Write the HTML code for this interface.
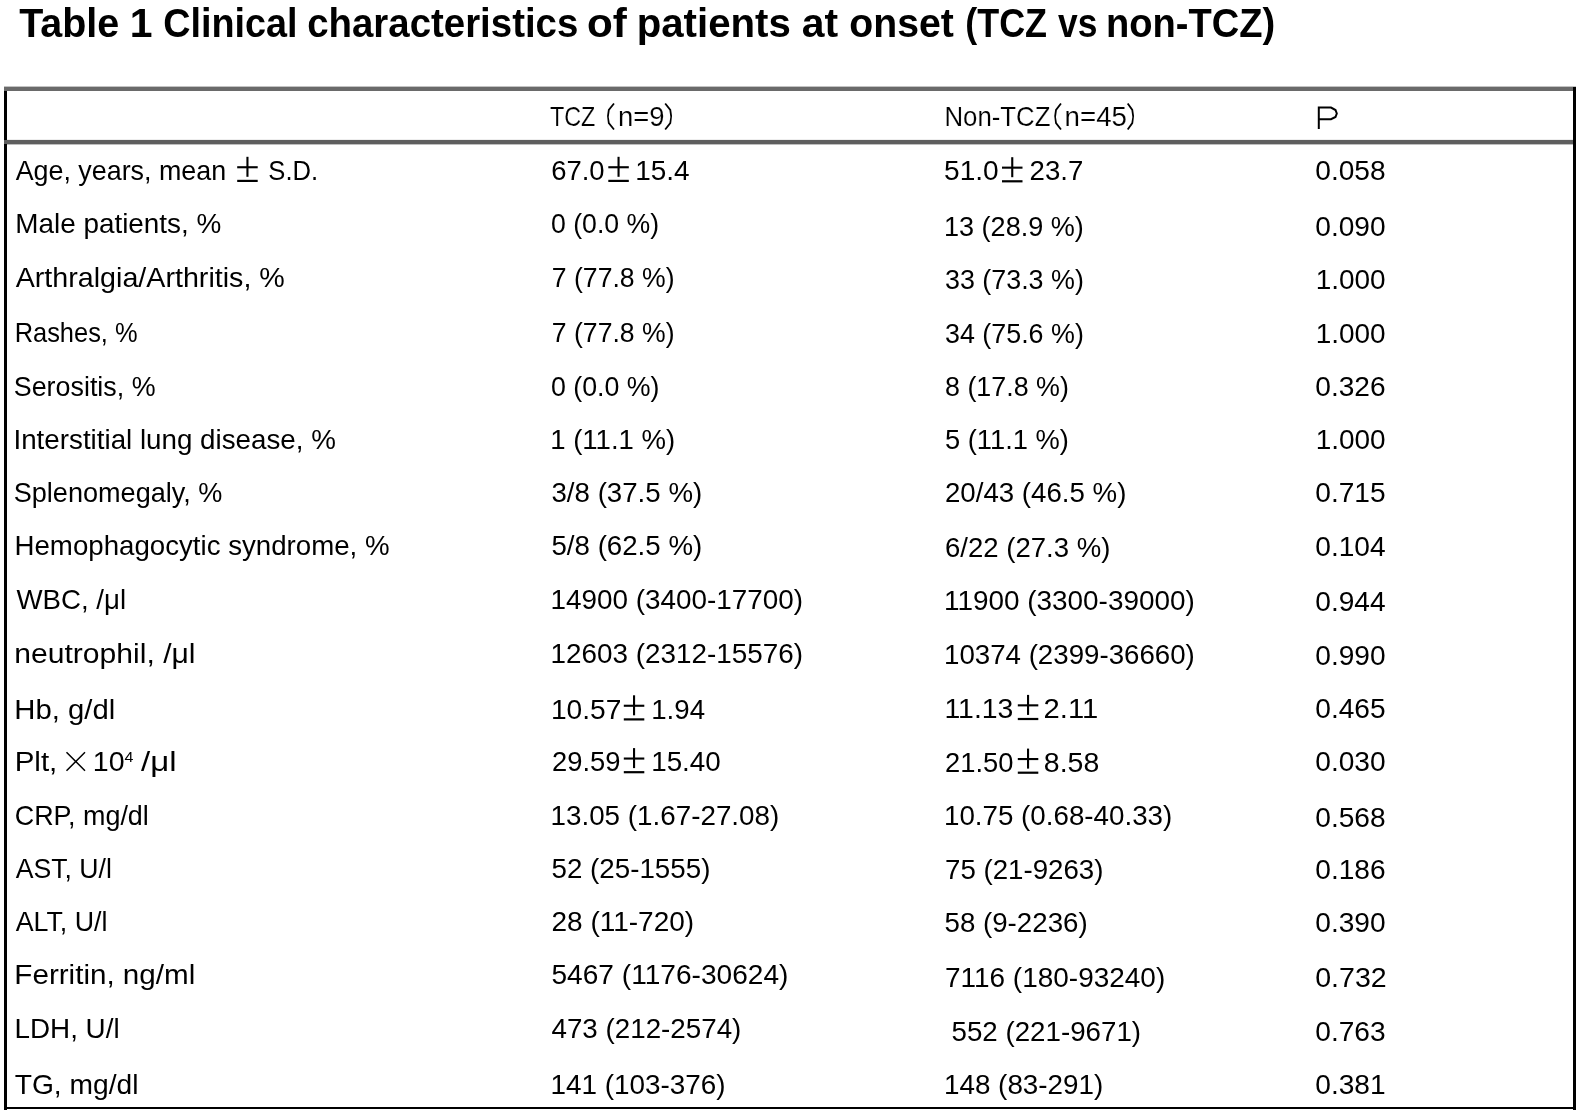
<!DOCTYPE html>
<html><head><meta charset="utf-8"><style>
html,body{margin:0;padding:0;background:#fff;}
body{width:1580px;height:1114px;overflow:hidden;position:relative;}
svg{position:absolute;left:0;top:0;will-change:transform;}
text{font-family:"Liberation Sans",sans-serif;fill:#000;}
</style></head><body>
<svg width="1580" height="1114" viewBox="0 0 1580 1114">
<rect x="4" y="86.6" width="1572" height="4.4" fill="#6a6a6a"/>
<rect x="4" y="139.9" width="1569" height="4.5" fill="#5e5e5e"/>
<rect x="4" y="91" width="3" height="49" fill="#000"/>
<rect x="4" y="144" width="3" height="966" fill="#000"/>
<rect x="1573" y="87" width="3" height="1023" fill="#000"/>
<rect x="4" y="1107" width="1572" height="2" fill="#000"/>
<path d="M1318.8 129 V107.6 H1331 L1335.5 110 L1336.8 113.5 L1335.5 117 L1331 119.2 H1318.8" fill="none" stroke="#000" stroke-width="2"/>
<g fill="#000">
<rect x="237.2" y="166.2" width="20.5" height="2.1"/><rect x="246.4" y="156.8" width="2.1" height="20"/><rect x="237.2" y="179.8" width="20.5" height="2.2"/>
<path d="M66.5 752.3 L85 770.6999999999999 M85 752.3 L66.5 770.6999999999999" stroke="#000" stroke-width="1.5" fill="none"/>
<rect x="608.3" y="166.2" width="20.5" height="2.1"/><rect x="617.5" y="156.8" width="2.1" height="20"/><rect x="608.3" y="179.8" width="20.5" height="2.2"/>
<rect x="623.8" y="704.7" width="20.5" height="2.1"/><rect x="633.0" y="695.3" width="2.1" height="20"/><rect x="623.8" y="718.3" width="20.5" height="2.2"/>
<rect x="623.8" y="757.5" width="20.5" height="2.1"/><rect x="633.0" y="748.1" width="2.1" height="20"/><rect x="623.8" y="771.1" width="20.5" height="2.2"/>
<rect x="1002.0" y="166.6" width="20.5" height="2.1"/><rect x="1011.2" y="157.2" width="2.1" height="20"/><rect x="1002.0" y="180.2" width="20.5" height="2.2"/>
<rect x="1017.8" y="704.3" width="20.5" height="2.1"/><rect x="1027.0" y="694.9" width="2.1" height="20"/><rect x="1017.8" y="717.9" width="20.5" height="2.2"/>
<rect x="1017.8" y="758.0" width="20.5" height="2.1"/><rect x="1027.0" y="748.6" width="2.1" height="20"/><rect x="1017.8" y="771.6" width="20.5" height="2.2"/>
<path d="M614.0 103.5 L608.8 110 Q607.0 116.5 608.8 123 L614.0 129.5" stroke="#000" stroke-width="1.8" fill="none"/>
<path d="M665.2 103.5 L670.3 110 Q672.1 116.5 670.3 123 L665.2 129.5" stroke="#000" stroke-width="1.8" fill="none"/>
<path d="M1061.0 103.5 L1056.0 110 Q1054.2 116.5 1056.0 123 L1061.0 129.5" stroke="#000" stroke-width="1.8" fill="none"/>
<path d="M1127.7 103.5 L1132.3 110 Q1134.1 116.5 1132.3 123 L1127.7 129.5" stroke="#000" stroke-width="1.8" fill="none"/>
</g>
<text x="19.20" y="37.0" font-size="40.5" font-weight="bold" textLength="100.03" lengthAdjust="spacingAndGlyphs">Table</text>
<text x="129.67" y="37.0" font-size="40.5" font-weight="bold" textLength="22.78" lengthAdjust="spacingAndGlyphs">1</text>
<text x="163.13" y="37.0" font-size="40.5" font-weight="bold" textLength="134.41" lengthAdjust="spacingAndGlyphs">Clinical</text>
<text x="307.20" y="37.0" font-size="40.5" font-weight="bold" textLength="271.13" lengthAdjust="spacingAndGlyphs">characteristics</text>
<text x="587.02" y="37.0" font-size="40.5" font-weight="bold" textLength="39.83" lengthAdjust="spacingAndGlyphs">of</text>
<text x="636.72" y="37.0" font-size="40.5" font-weight="bold" textLength="154.05" lengthAdjust="spacingAndGlyphs">patients</text>
<text x="801.69" y="37.0" font-size="40.5" font-weight="bold" textLength="36.32" lengthAdjust="spacingAndGlyphs">at</text>
<text x="849.36" y="37.0" font-size="40.5" font-weight="bold" textLength="104.55" lengthAdjust="spacingAndGlyphs">onset</text>
<text x="965.22" y="37.0" font-size="40.5" font-weight="bold" textLength="81.86" lengthAdjust="spacingAndGlyphs">(TCZ</text>
<text x="1058.00" y="37.0" font-size="40.5" font-weight="bold" textLength="39.40" lengthAdjust="spacingAndGlyphs">vs</text>
<text x="1106.08" y="37.0" font-size="40.5" font-weight="bold" textLength="169.13" lengthAdjust="spacingAndGlyphs">non-TCZ)</text>
<text x="15.70" y="180.0" font-size="27.5" textLength="210.39" lengthAdjust="spacingAndGlyphs">Age, years, mean</text>
<text x="268.34" y="180.0" font-size="27.5" textLength="49.77" lengthAdjust="spacingAndGlyphs">S.D.</text>
<text x="15.27" y="233.3" font-size="27.5" textLength="206.04" lengthAdjust="spacingAndGlyphs">Male patients, %</text>
<text x="15.70" y="286.6" font-size="27.5" textLength="269.14" lengthAdjust="spacingAndGlyphs">Arthralgia/Arthritis, %</text>
<text x="14.65" y="342.2" font-size="27.5" textLength="122.96" lengthAdjust="spacingAndGlyphs">Rashes, %</text>
<text x="13.75" y="395.9" font-size="27.5" textLength="141.81" lengthAdjust="spacingAndGlyphs">Serositis, %</text>
<text x="13.47" y="448.7" font-size="27.5" textLength="322.42" lengthAdjust="spacingAndGlyphs">Interstitial lung disease, %</text>
<text x="13.73" y="501.6" font-size="27.5" textLength="208.74" lengthAdjust="spacingAndGlyphs">Splenomegaly, %</text>
<text x="14.49" y="555.3" font-size="27.5" textLength="375.07" lengthAdjust="spacingAndGlyphs">Hemophagocytic syndrome, %</text>
<text x="16.50" y="609.0" font-size="27.5" textLength="109.56" lengthAdjust="spacingAndGlyphs">WBC, /μl</text>
<text x="14.31" y="662.8" font-size="27.5" textLength="181.22" lengthAdjust="spacingAndGlyphs">neutrophil, /μl</text>
<text x="14.37" y="718.5" font-size="27.5" textLength="100.93" lengthAdjust="spacingAndGlyphs">Hb, g/dl</text>
<text x="14.65" y="771.3" font-size="27.5" textLength="42.69" lengthAdjust="spacingAndGlyphs">Plt,</text>
<text x="92.82" y="771.3" font-size="27.5" textLength="31.80" lengthAdjust="spacingAndGlyphs">10</text>
<text x="124.50" y="761.8" font-size="15.125000000000002" textLength="8.93" lengthAdjust="spacingAndGlyphs">4</text>
<text x="141.00" y="771.3" font-size="27.5" textLength="35.53" lengthAdjust="spacingAndGlyphs">/μl</text>
<text x="14.72" y="825.0" font-size="27.5" textLength="134.08" lengthAdjust="spacingAndGlyphs">CRP, mg/dl</text>
<text x="15.70" y="877.8" font-size="27.5" textLength="96.19" lengthAdjust="spacingAndGlyphs">AST, U/l</text>
<text x="15.70" y="930.7" font-size="27.5" textLength="91.82" lengthAdjust="spacingAndGlyphs">ALT, U/l</text>
<text x="14.35" y="984.4" font-size="27.5" textLength="180.91" lengthAdjust="spacingAndGlyphs">Ferritin, ng/ml</text>
<text x="14.48" y="1038.1" font-size="27.5" textLength="105.15" lengthAdjust="spacingAndGlyphs">LDH, U/l</text>
<text x="14.67" y="1093.7" font-size="27.5" textLength="123.79" lengthAdjust="spacingAndGlyphs">TG, mg/dl</text>
<text x="551.03" y="233.3" font-size="27.5" textLength="108.00" lengthAdjust="spacingAndGlyphs">0 (0.0 %)</text>
<text x="551.83" y="286.6" font-size="27.5" textLength="122.68" lengthAdjust="spacingAndGlyphs">7 (77.8 %)</text>
<text x="551.83" y="342.2" font-size="27.5" textLength="122.68" lengthAdjust="spacingAndGlyphs">7 (77.8 %)</text>
<text x="551.03" y="395.9" font-size="27.5" textLength="108.51" lengthAdjust="spacingAndGlyphs">0 (0.0 %)</text>
<text x="550.20" y="448.7" font-size="27.5" textLength="124.93" lengthAdjust="spacingAndGlyphs">1 (11.1 %)</text>
<text x="551.49" y="501.6" font-size="27.5" textLength="150.73" lengthAdjust="spacingAndGlyphs">3/8 (37.5 %)</text>
<text x="551.49" y="555.3" font-size="27.5" textLength="150.73" lengthAdjust="spacingAndGlyphs">5/8 (62.5 %)</text>
<text x="550.47" y="609.0" font-size="27.5" textLength="252.48" lengthAdjust="spacingAndGlyphs">14900 (3400-17700)</text>
<text x="550.47" y="662.8" font-size="27.5" textLength="252.48" lengthAdjust="spacingAndGlyphs">12603 (2312-15576)</text>
<text x="550.48" y="825.0" font-size="27.5" textLength="228.82" lengthAdjust="spacingAndGlyphs">13.05 (1.67-27.08)</text>
<text x="551.49" y="877.8" font-size="27.5" textLength="158.89" lengthAdjust="spacingAndGlyphs">52 (25-1555)</text>
<text x="551.48" y="930.7" font-size="27.5" textLength="142.68" lengthAdjust="spacingAndGlyphs">28 (11-720)</text>
<text x="551.48" y="984.4" font-size="27.5" textLength="236.97" lengthAdjust="spacingAndGlyphs">5467 (1176-30624)</text>
<text x="551.49" y="1038.1" font-size="27.5" textLength="189.88" lengthAdjust="spacingAndGlyphs">473 (212-2574)</text>
<text x="550.47" y="1093.7" font-size="27.5" textLength="175.12" lengthAdjust="spacingAndGlyphs">141 (103-376)</text>
<text x="551.20" y="180.0" font-size="27.5" textLength="53.43" lengthAdjust="spacingAndGlyphs">67.0</text>
<text x="635.17" y="180.0" font-size="27.5" textLength="54.37" lengthAdjust="spacingAndGlyphs">15.4</text>
<text x="550.95" y="718.5" font-size="27.5" textLength="70.52" lengthAdjust="spacingAndGlyphs">10.57</text>
<text x="651.19" y="718.5" font-size="27.5" textLength="53.85" lengthAdjust="spacingAndGlyphs">1.94</text>
<text x="552.01" y="771.3" font-size="27.5" textLength="68.42" lengthAdjust="spacingAndGlyphs">29.59</text>
<text x="651.18" y="771.3" font-size="27.5" textLength="69.56" lengthAdjust="spacingAndGlyphs">15.40</text>
<text x="944.03" y="235.7" font-size="27.5" textLength="139.82" lengthAdjust="spacingAndGlyphs">13 (28.9 %)</text>
<text x="945.02" y="289.1" font-size="27.5" textLength="138.82" lengthAdjust="spacingAndGlyphs">33 (73.3 %)</text>
<text x="945.02" y="342.5" font-size="27.5" textLength="138.82" lengthAdjust="spacingAndGlyphs">34 (75.6 %)</text>
<text x="945.02" y="395.6" font-size="27.5" textLength="123.81" lengthAdjust="spacingAndGlyphs">8 (17.8 %)</text>
<text x="945.01" y="448.5" font-size="27.5" textLength="123.80" lengthAdjust="spacingAndGlyphs">5 (11.1 %)</text>
<text x="944.99" y="502.3" font-size="27.5" textLength="181.40" lengthAdjust="spacingAndGlyphs">20/43 (46.5 %)</text>
<text x="945.00" y="556.5" font-size="27.5" textLength="165.41" lengthAdjust="spacingAndGlyphs">6/22 (27.3 %)</text>
<text x="943.97" y="609.7" font-size="27.5" textLength="250.85" lengthAdjust="spacingAndGlyphs">11900 (3300-39000)</text>
<text x="943.99" y="663.5" font-size="27.5" textLength="250.86" lengthAdjust="spacingAndGlyphs">10374 (2399-36660)</text>
<text x="943.98" y="825.3" font-size="27.5" textLength="228.31" lengthAdjust="spacingAndGlyphs">10.75 (0.68-40.33)</text>
<text x="944.99" y="878.5" font-size="27.5" textLength="158.48" lengthAdjust="spacingAndGlyphs">75 (21-9263)</text>
<text x="944.49" y="931.6" font-size="27.5" textLength="143.20" lengthAdjust="spacingAndGlyphs">58 (9-2236)</text>
<text x="944.98" y="987.4" font-size="27.5" textLength="220.25" lengthAdjust="spacingAndGlyphs">7116 (180-93240)</text>
<text x="951.49" y="1040.8" font-size="27.5" textLength="189.58" lengthAdjust="spacingAndGlyphs">552 (221-9671)</text>
<text x="943.98" y="1093.8" font-size="27.5" textLength="159.31" lengthAdjust="spacingAndGlyphs">148 (83-291)</text>
<text x="944.08" y="180.4" font-size="27.5" textLength="54.66" lengthAdjust="spacingAndGlyphs">51.0</text>
<text x="1029.60" y="180.4" font-size="27.5" textLength="53.74" lengthAdjust="spacingAndGlyphs">23.7</text>
<text x="944.43" y="718.1" font-size="27.5" textLength="68.97" lengthAdjust="spacingAndGlyphs">11.13</text>
<text x="1043.64" y="718.1" font-size="27.5" textLength="54.64" lengthAdjust="spacingAndGlyphs">2.11</text>
<text x="945.01" y="771.8" font-size="27.5" textLength="68.42" lengthAdjust="spacingAndGlyphs">21.50</text>
<text x="1043.86" y="771.8" font-size="27.5" textLength="55.42" lengthAdjust="spacingAndGlyphs">8.58</text>
<text x="1315.28" y="180.1" font-size="27.5" textLength="70.37" lengthAdjust="spacingAndGlyphs">0.058</text>
<text x="1315.28" y="235.9" font-size="27.5" textLength="70.37" lengthAdjust="spacingAndGlyphs">0.090</text>
<text x="1315.67" y="289.2" font-size="27.5" textLength="69.98" lengthAdjust="spacingAndGlyphs">1.000</text>
<text x="1315.67" y="342.5" font-size="27.5" textLength="69.98" lengthAdjust="spacingAndGlyphs">1.000</text>
<text x="1315.28" y="396.3" font-size="27.5" textLength="70.37" lengthAdjust="spacingAndGlyphs">0.326</text>
<text x="1315.67" y="449.3" font-size="27.5" textLength="69.98" lengthAdjust="spacingAndGlyphs">1.000</text>
<text x="1315.28" y="502.2" font-size="27.5" textLength="70.37" lengthAdjust="spacingAndGlyphs">0.715</text>
<text x="1315.28" y="556.3" font-size="27.5" textLength="70.37" lengthAdjust="spacingAndGlyphs">0.104</text>
<text x="1315.28" y="611.1" font-size="27.5" textLength="70.37" lengthAdjust="spacingAndGlyphs">0.944</text>
<text x="1315.28" y="664.8" font-size="27.5" textLength="70.37" lengthAdjust="spacingAndGlyphs">0.990</text>
<text x="1315.28" y="718.0" font-size="27.5" textLength="70.37" lengthAdjust="spacingAndGlyphs">0.465</text>
<text x="1315.28" y="771.3" font-size="27.5" textLength="70.37" lengthAdjust="spacingAndGlyphs">0.030</text>
<text x="1315.28" y="827.2" font-size="27.5" textLength="70.37" lengthAdjust="spacingAndGlyphs">0.568</text>
<text x="1315.28" y="878.5" font-size="27.5" textLength="70.37" lengthAdjust="spacingAndGlyphs">0.186</text>
<text x="1315.28" y="931.8" font-size="27.5" textLength="70.37" lengthAdjust="spacingAndGlyphs">0.390</text>
<text x="1315.26" y="987.1" font-size="27.5" textLength="71.44" lengthAdjust="spacingAndGlyphs">0.732</text>
<text x="1315.28" y="1041.1" font-size="27.5" textLength="70.37" lengthAdjust="spacingAndGlyphs">0.763</text>
<text x="1315.28" y="1094.0" font-size="27.5" textLength="70.37" lengthAdjust="spacingAndGlyphs">0.381</text>
<text x="549.95" y="126.2" font-size="27.5" stroke="#fff" stroke-width="0.15" textLength="45.45" lengthAdjust="spacingAndGlyphs">TCZ</text>
<text x="617.90" y="126.2" font-size="27.5" stroke="#fff" stroke-width="0.15" textLength="46.55" lengthAdjust="spacingAndGlyphs">n=9</text>
<text x="944.42" y="126.2" font-size="27.5" stroke="#fff" stroke-width="0.15" textLength="106.07" lengthAdjust="spacingAndGlyphs">Non-TCZ</text>
<text x="1064.59" y="126.2" font-size="27.5" stroke="#fff" stroke-width="0.15" textLength="62.37" lengthAdjust="spacingAndGlyphs">n=45</text>
</svg>
</body></html>
